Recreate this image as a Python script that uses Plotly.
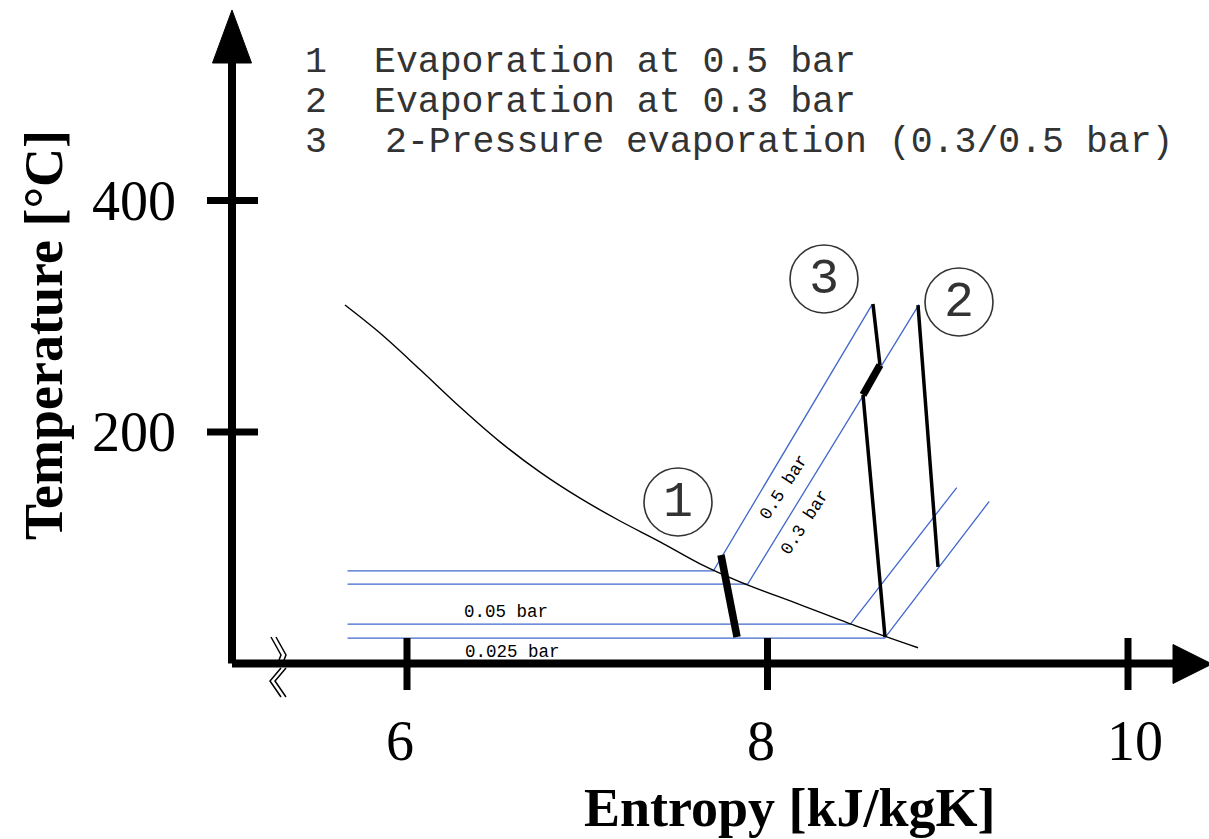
import plotly.graph_objects as go

# ---------------- data (entropy kJ/kgK, temperature °C) ----------------
S_SAT = [5.656, 5.850, 6.072, 6.294, 6.516, 6.738, 6.960, 7.182, 7.404, 7.626, 7.847, 8.180, 8.513, 8.835]
T_SAT = [309.7, 285.5, 254.0, 221.6, 191.5, 165.3, 142.8, 123.1, 105.1, 86.1, 70.6, 50.9, 31.2, 13.6]

S_05 = [5.67, 7.70, 8.58]
T_05 = [80, 80, 310]
S_03 = [5.67, 7.89, 8.84]
T_03 = [68.5, 68.5, 310]
S_005 = [5.67, 8.46, 9.05]
T_005 = [34, 34, 152]
S_0025 = [5.67, 8.65, 9.23]
T_0025 = [22, 22, 140]

S_P1 = [7.742, 7.831]
T_P1 = [93.7, 22.9]
S_P2 = [8.835, 8.946]
T_P2 = [309.7, 83.4]
S_P3_TOP = [8.585, 8.624]
T_P3_TOP = [310.6, 257.9]
S_P3_MID = [8.624, 8.530]
T_P3_MID = [257.9, 232.0]
S_P3_LOW = [8.530, 8.652]
T_P3_LOW = [232.0, 22.9]

X_TICKS = [6, 8, 10]
X_TICK_LABELS = ["6", "8", "10"]
Y_TICKS = [200, 400]
Y_TICK_LABELS = ["200", "400"]

LEGEND_NUMS = ["1", "2", "3"]
LEGEND_TEXTS = ["Evaporation at 0.5 bar", "Evaporation at 0.3 bar", "2-Pressure evaporation (0.3/0.5 bar)"]
ISOBAR_LABELS = ["0.5 bar", "0.3 bar", "0.05 bar", "0.025 bar"]
PROCESS_LABELS = ["1", "3", "2"]

# ---------------- layout helpers (pixel -> data) ----------------
W, H = 1209, 839
PX_PER_S = 180.25
PX_PER_T = 1.1575


def sx(px):
    return 6 + (px - 407) / PX_PER_S


def ty(py):
    return (663.5 - py) / PX_PER_T


BLUE = "#4068cc"
INK = "#333333"

fig = go.Figure()


def line(xs, ys, color, width, shape="linear"):
    fig.add_trace(go.Scatter(x=xs, y=ys, mode="lines",
                             line=dict(color=color, width=width, shape=shape),
                             hoverinfo="skip", showlegend=False))


for xs, ys in [(S_05, T_05), (S_03, T_03), (S_005, T_005), (S_0025, T_0025)]:
    line(xs, ys, BLUE, 1.3)

line(S_SAT, T_SAT, "black", 1.4, "spline")

line(S_P1, T_P1, "black", 7.5)
line(S_P2, T_P2, "black", 3.5)
line(S_P3_TOP, T_P3_TOP, "black", 3.5)
line(S_P3_MID, T_P3_MID, "black", 7.5)
line(S_P3_LOW, T_P3_LOW, "black", 3.5)

shapes = []
# axes
AX_Y = 0.0
AX_X = sx(232)
shapes.append(dict(type="line", xref="x", yref="y", x0=AX_X, y0=AX_Y, x1=sx(1176), y1=AX_Y,
                   line=dict(color="black", width=8)))
shapes.append(dict(type="line", xref="x", yref="y", x0=AX_X, y0=AX_Y, x1=AX_X, y1=ty(60),
                   line=dict(color="black", width=8)))
# arrow heads
shapes.append(dict(type="path", xref="x", yref="y",
                   path=f"M {sx(1173)} {ty(644.5)} L {sx(1212)} {ty(664)} L {sx(1173)} {ty(683.5)} Z",
                   fillcolor="black", line=dict(color="black", width=1)))
shapes.append(dict(type="path", xref="x", yref="y",
                   path=f"M {sx(212.5)} {ty(63)} L {sx(232)} {ty(10)} L {sx(251.5)} {ty(63)} Z",
                   fillcolor="black", line=dict(color="black", width=1)))
# ticks
for v in X_TICKS:
    shapes.append(dict(type="line", xref="x", yref="y", x0=v, x1=v, y0=ty(638), y1=ty(690),
                       line=dict(color="black", width=7)))
for v in Y_TICKS:
    shapes.append(dict(type="line", xref="x", yref="y", x0=sx(207), x1=sx(258), y0=v, y1=v,
                       line=dict(color="black", width=7)))
# axis break marks
for dx in (0, 5):
    shapes.append(dict(type="path", xref="x", yref="y",
                       path=f"M {sx(271+dx)} {ty(637)} L {sx(281+dx)} {ty(655)} L {sx(279+dx)} {ty(660)}",
                       line=dict(color="black", width=1.5)))
    shapes.append(dict(type="path", xref="x", yref="y",
                       path=f"M {sx(281+dx)} {ty(668)} L {sx(270+dx)} {ty(681)} L {sx(281+dx)} {ty(697)}",
                       line=dict(color="black", width=1.5)))
# circles around process numbers
CIRCLES_PX = [(678, 502), (824, 279), (959, 302)]
R = 34
for cx, cy in CIRCLES_PX:
    shapes.append(dict(type="circle", xref="x", yref="y",
                       x0=sx(cx - R), x1=sx(cx + R), y0=ty(cy + R), y1=ty(cy - R),
                       line=dict(color=INK, width=1.6)))

ann = []
SERIF = "Liberation Serif, Times New Roman, serif"
MONO = "Liberation Mono, DejaVu Sans Mono, monospace"
for v, t in zip(X_TICKS, X_TICK_LABELS):
    ann.append(dict(x=v, y=ty(741), text=t, showarrow=False, xanchor="left", yanchor="middle",
                    xshift=-23, font=dict(family=SERIF, size=56, color="black")))
for v, t in zip(Y_TICKS, Y_TICK_LABELS):
    ann.append(dict(x=sx(178), y=v, text=t, showarrow=False, xanchor="right", yanchor="middle",
                    font=dict(family=SERIF, size=56, color="black")))
ann.append(dict(x=sx(44), y=ty(335), text="<b>Temperature [°C]</b>", showarrow=False, textangle=-90,
                xanchor="center", yanchor="middle", font=dict(family=SERIF, size=54, color="black")))
ann.append(dict(x=sx(790), y=ty(808), text="<b>Entropy [kJ/kgK]</b>", showarrow=False,
                xanchor="center", yanchor="middle", font=dict(family=SERIF, size=54, color="black")))

LEG_Y = [62, 102, 142]
LEG_TX = [372, 372, 383]
for n, t, y, x in zip(LEGEND_NUMS, LEGEND_TEXTS, LEG_Y, LEG_TX):
    ann.append(dict(x=sx(303), y=ty(y), text=n, showarrow=False, xanchor="left", yanchor="middle",
                    font=dict(family=MONO, size=36.5, color=INK)))
    ann.append(dict(x=sx(x), y=ty(y), text=t, showarrow=False, xanchor="left", yanchor="middle",
                    font=dict(family=MONO, size=36.5, color=INK)))

# isobar labels
ISO_POS = [(784, 487, -57), (805, 522, -57), (506, 612, 0), (512, 652, 0)]
for t, (x, y, a) in zip(ISOBAR_LABELS, ISO_POS):
    ann.append(dict(x=sx(x), y=ty(y), text=t, showarrow=False, textangle=a, xanchor="center",
                    yanchor="middle", font=dict(family=MONO, size=17.5, color="black")))

for t, (cx, cy) in zip(PROCESS_LABELS, CIRCLES_PX):
    ann.append(dict(x=sx(cx), y=ty(cy), text=t, showarrow=False, xanchor="center", yanchor="middle",
                    font=dict(family=MONO, size=50, color=INK)))

fig.update_layout(
    width=W, height=H,
    margin=dict(l=0, r=0, t=0, b=0),
    paper_bgcolor="white", plot_bgcolor="white",
    xaxis=dict(range=[sx(0), sx(W)], visible=False, fixedrange=True),
    yaxis=dict(range=[ty(H), ty(0)], visible=False, fixedrange=True),
    shapes=shapes, annotations=ann, showlegend=False,
)

fig.write_html("out.html")
